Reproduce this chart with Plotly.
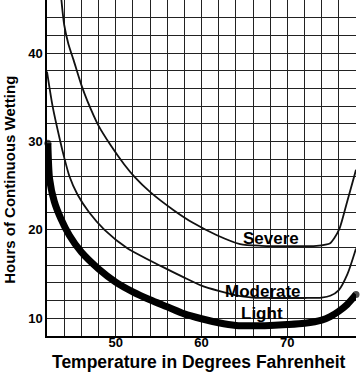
import plotly.graph_objects as go

# Data
severe_x = [43.65, 44.0, 44.5, 45.1, 46.0, 46.7, 48.0, 49.4, 51.0, 52.2, 54.0, 56.8, 59.0, 61.8, 64.5, 67.0, 70.0, 73.4, 75.0, 75.5, 76.1, 77.0, 78.0]
severe_y = [46.3, 43.2, 41.0, 39.2, 36.4, 34.6, 31.8, 29.6, 27.4, 26.0, 24.3, 22.2, 20.8, 19.4, 18.4, 18.2, 18.15, 18.2, 18.5, 19.1, 20.2, 23.3, 26.8]

moderate_x = [42.0, 42.65, 43.55, 44.0, 44.6, 45.55, 46.9, 48.7, 51.4, 55.3, 58.0, 60.0, 62.0, 64.0, 66.0, 68.0, 70.0, 72.0, 74.0, 75.0, 76.0, 77.0, 78.0]
moderate_y = [37.9, 34.0, 30.0, 28.2, 26.1, 24.0, 22.0, 20.0, 17.9, 15.9, 14.6, 13.7, 13.1, 12.6, 12.35, 12.3, 12.3, 12.3, 12.35, 12.55, 13.2, 15.0, 17.9]

light_x = [42.1, 42.3, 42.85, 43.6, 44.6, 46.0, 48.0, 50.0, 52.0, 54.0, 56.0, 58.0, 60.0, 62.0, 64.0, 66.0, 68.0, 70.0, 72.0, 74.0, 75.0, 76.0, 77.0, 78.0]
light_y = [29.8, 25.8, 23.2, 21.3, 19.4, 17.5, 15.6, 14.1, 13.0, 12.1, 11.3, 10.5, 9.95, 9.5, 9.2, 9.15, 9.2, 9.3, 9.45, 9.8, 10.2, 10.8, 11.6, 12.7]

label_text = ["Severe", "Moderate", "Light"]
label_x = [68.1, 67.2, 67.0]
label_y = [19.0, 13.0, 10.6]

x_grid = list(range(42, 80, 2))
x_ticktext = [str(v) if v % 10 == 0 else "" for v in x_grid]
y_grid = list(range(8, 48, 2))
y_ticktext = [str(v) if v % 10 == 0 else "" for v in y_grid]

x_title = "Temperature in Degrees Fahrenheit"
y_title = "Hours of Continuous Wetting"

FONT = "Liberation Sans, Arial, Helvetica, sans-serif"
INK = "#111111"

fig = go.Figure()
fig.add_trace(go.Scatter(x=severe_x, y=severe_y, mode="lines",
                         line=dict(color=INK, width=1.8, shape="spline", smoothing=0.7),
                         hoverinfo="skip", showlegend=False))
fig.add_trace(go.Scatter(x=moderate_x, y=moderate_y, mode="lines",
                         line=dict(color=INK, width=1.8, shape="spline", smoothing=0.7),
                         hoverinfo="skip", showlegend=False))
cap_sizes = [7] + [0] * (len(light_x) - 2) + [7]
fig.add_trace(go.Scatter(x=light_x, y=light_y, mode="lines+markers",
                         line=dict(color="#000000", width=7, shape="spline", smoothing=0.7),
                         marker=dict(size=cap_sizes, color="#000000", line=dict(width=0)),
                         cliponaxis=False,
                         hoverinfo="skip", showlegend=False))

for t, lx, ly in zip(label_text, label_x, label_y):
    fig.add_annotation(x=lx, y=ly, text=t, showarrow=False,
                       font=dict(family=FONT, size=17, color="#000", weight="bold"),
                       xanchor="center", yanchor="middle")

# axis titles as annotations for exact placement
fig.add_annotation(xref="paper", yref="paper", x=-0.122, y=0.466, text=y_title,
                   textangle=-90, showarrow=False,
                   font=dict(family=FONT, size=15, color="#000", weight="bold"),
                   xanchor="center", yanchor="middle")
fig.add_annotation(xref="paper", yref="paper", x=0.493, y=-0.0775, text=x_title,
                   showarrow=False,
                   font=dict(family=FONT, size=17.5, color="#000", weight="bold"),
                   xanchor="center", yanchor="middle")

common = dict(showgrid=True, gridcolor="#222222", gridwidth=1.4, ticks="", ticklen=0,
              showline=True, linecolor="#000", linewidth=1.5, zeroline=False,
              automargin=False,
              tickfont=dict(family=FONT, size=13, color="#000", weight="bold"))
fig.update_xaxes(range=[42, 78], tickmode="array", tickvals=x_grid, ticktext=x_ticktext,
                 ticklabelstandoff=-6, **common)
fig.update_yaxes(range=[8, 46], tickmode="array", tickvals=y_grid, ticktext=y_ticktext,
                 **common)

fig.update_layout(width=360, height=372, margin=dict(l=47, r=4, t=0, b=36),
                  plot_bgcolor="white", paper_bgcolor="white")

fig.write_html("out.html", config={"displayModeBar": False},
               post_script="document.body.style.margin='0px';")
